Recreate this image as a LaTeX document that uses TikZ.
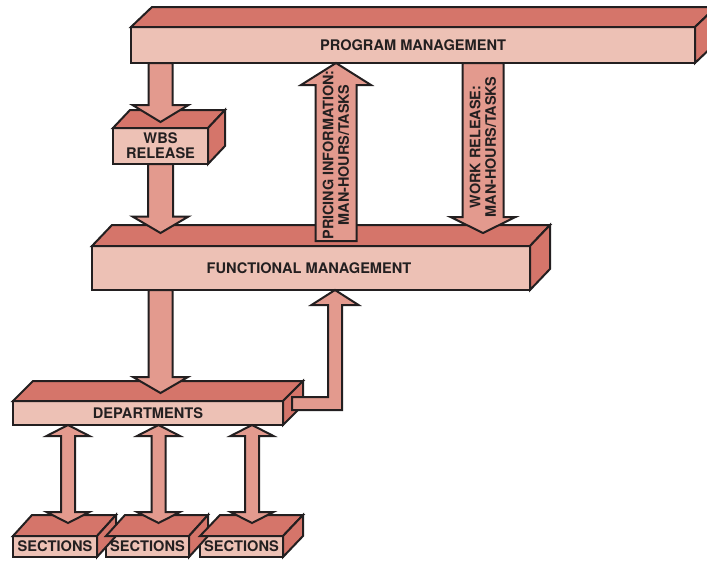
\documentclass[tikz,border=0pt]{standalone}
\usepackage{fontspec}
\setmainfont{TeX Gyre Heros}
\usetikzlibrary{calc}
\definecolor{facefront}{RGB}{237,193,181}
\definecolor{facetop}{RGB}{213,117,106}
\definecolor{arrowfill}{RGB}{227,154,142}
\definecolor{ink}{RGB}{35,31,32}
\tikzset{
  front/.style={draw=ink, fill=facefront, line width=2pt, inner sep=0pt, outer sep=0pt,
    font=\bfseries\fontsize{14.6}{15}\selectfont, text=ink, align=center},
  topface/.style={draw=ink, fill=facetop, line width=2pt, line join=miter},
  blockarrow/.style={draw=ink, fill=arrowfill, line width=2pt, line join=miter},
  arrowtext/.style={font=\bfseries\fontsize{14.4}{15.5}\selectfont, text=ink, align=center, inner sep=0pt}
}
\newcommand\boxfaces[3]{%
  \draw[topface] (#1.north west) -- ++(#2,-#3) -- ($(#1.north east)+(#2,-#3)$) -- (#1.north east) -- cycle;
  \draw[topface] (#1.north east) -- ++(#2,-#3) -- ($(#1.south east)+(#2,-#3)$) -- (#1.south east) -- cycle;}
\newcommand\varrow[5]{%
  \draw[blockarrow] let \p1=(#1), \p2=(#2), \p3=($(#2)!#5pt!(#1)$) in
    ({\x1-#3pt},\y1) -- ({\x1-#3pt},\y3) -- ({\x1-#4pt},\y3) -- (\x1,\y2) --
    ({\x1+#4pt},\y3) -- ({\x1+#3pt},\y3) -- ({\x1+#3pt},\y1) -- cycle;}
\newcommand\dblarrow[5]{%
  \draw[blockarrow] let \p1=(#1), \p2=(#2), \p3=($(#1)!#5pt!(#2)$), \p4=($(#2)!#5pt!(#1)$) in
    (\x1,\y1) -- ({\x1+#4pt},\y3) -- ({\x1+#3pt},\y3) -- ({\x1+#3pt},\y4) -- ({\x1+#4pt},\y4) --
    (\x1,\y2) -- ({\x1-#4pt},\y4) -- ({\x1-#3pt},\y4) -- ({\x1-#3pt},\y3) -- ({\x1-#4pt},\y3) -- cycle;}
\begin{document}
\begin{tikzpicture}[x=1pt,y=-1pt]
\useasboundingbox (0,0) rectangle (707,560);
\clip (0,0) rectangle (707,560);
% front faces
\node[front, minimum width=564pt, minimum height=36pt] (pm) at (413,45) {PROGRAM MANAGEMENT};
\node[front, minimum width=95pt, minimum height=36pt] (wbs) at (160.5,146) {WBS\\RELEASE};
\node[front, minimum width=438pt, minimum height=44pt] (fm) at (311,268) {\hspace*{-4pt}FUNCTIONAL MANAGEMENT};
\node[front, minimum width=270pt, minimum height=24pt] (dep) at (148,413) {DEPARTMENTS};
\node[front, minimum width=84pt, minimum height=21pt] (s1) at (55,546.5) {SECTIONS};
\node[front, minimum width=83pt, minimum height=21pt] (s2) at (147.5,546.5) {SECTIONS};
\node[front, minimum width=83pt, minimum height=21pt] (s3) at (241.5,546.5) {SECTIONS};
% top and side faces
\boxfaces{pm}{21}{20}
\boxfaces{wbs}{17}{18}
\boxfaces{fm}{20}{21}
\boxfaces{dep}{20}{20}
\boxfaces{s1}{19}{21}
\boxfaces{s2}{19}{21}
\boxfaces{s3}{20}{21}
% arrow end points
\coordinate (a1s) at (wbs.north |- pm.south);
\coordinate (a1t) at ($(wbs.north)+(0,-6)$);
\coordinate (a2s) at (wbs.south);
\coordinate (a2t) at ($(wbs.south |- fm.north)+(0,-13)$);
\coordinate (a3s) at ($(fm.north west)+(244,-5)$);
\coordinate (a3t) at (a3s |- pm.south);
\coordinate (a4s) at ($(pm.south west)+(352,0)$);
\coordinate (a4t) at ($(a4s |- fm.north)+(0,-13)$);
\coordinate (a5s) at (wbs.center |- fm.south);
\coordinate (a5t) at ($(a5s |- dep.north)+(0,-8)$);
\coordinate (d1b) at ($(s1.north)+(13,-13)$);
\coordinate (d1t) at (d1b |- dep.south);
\coordinate (d2b) at ($(s2.north)+(11,-13)$);
\coordinate (d2t) at (d2b |- dep.south);
\coordinate (d3b) at ($(s3.north)+(10.5,-13)$);
\coordinate (d3t) at (d3b |- dep.south);
\coordinate (els) at ($(dep.east)+(9,-9.5)$);
\coordinate (elb) at ($(els)+(43,0)$);
% arrows
\varrow{a1s}{a1t}{12}{28}{17}
\varrow{a2s}{a2t}{12.5}{28}{16.5}
\varrow{a3s}{a3t}{20.5}{35}{22}
\varrow{a4s}{a4t}{20.5}{32.5}{16}
\varrow{a5s}{a5t}{12}{27.5}{16}
\dblarrow{d1t}{d1b}{7}{21.5}{11}
\dblarrow{d2t}{d2b}{7}{21.5}{11}
\dblarrow{d3t}{d3b}{7}{21.5}{11}
\draw[blockarrow] let \p1=(els), \p2=(elb), \p3=(elb |- fm.south) in
  (\x1,{\y1+6.5pt}) -- ({\x2-7pt},{\y1+6.5pt}) -- ({\x2-7pt},{\y3-15pt}) --
  ({\x2-23.5pt},{\y3-15pt}) -- (\x2,\y3) -- ({\x2+23.5pt},{\y3-15pt}) --
  ({\x2+7pt},{\y3-15pt}) -- ({\x2+7pt},{\y1-6.5pt}) -- (\x1,{\y1-6.5pt}) -- cycle;
% arrow labels
\node[arrowtext, rotate=90] (prl) at ($(a3s)+(0,-86)$) {PRICING INFORMATION:\\MAN-HOURS/TASKS};
\node[arrowtext, rotate=90] (wrl) at ($(a4s)+(0,84)$) {WORK RELEASE:\\MAN-HOURS/TASKS};
\end{tikzpicture}
\end{document}
